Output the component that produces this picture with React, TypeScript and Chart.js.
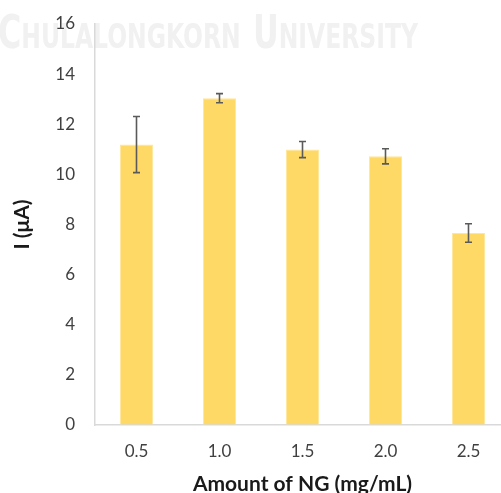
import React, { useEffect, useRef } from "react";
import { Chart, registerables } from "chart.js";

Chart.register(...registerables);

// Current response for each amount of NG
const categories = ["0.5", "1.0", "1.5", "2.0", "2.5"];
const currents = [11.19, 13.04, 10.99, 10.72, 7.66];
const errors = [1.12, 0.18, 0.32, 0.3, 0.37];
const yTicks = [0, 2, 4, 6, 8, 10, 12, 14, 16];

const FONT = "Lato, 'Open Sans', sans-serif";
const TEXT = "#404040";

// Faint institutional watermark across the top of the figure
const watermarkPlugin = {
  id: "watermark",
  beforeDraw(chart: any) {
    const ctx = chart.ctx as CanvasRenderingContext2D;
    const parts: [string, number, number][] = [
      ["C", 46, 0],
      ["HULALONGKORN", 34, 0],
      ["U", 46, 16],
      ["NIVERSITY", 34, 0],
    ];
    ctx.save();
    let total = 0;
    for (const [t, size, gap] of parts) {
      ctx.font = `bold ${size}px 'DejaVu Sans Condensed', 'Liberation Sans', sans-serif`;
      total += ctx.measureText(t).width + gap;
    }
    const targetW = 420;
    const sx = targetW / total;
    ctx.translate(-2, 48);
    ctx.scale(sx, 1);
    ctx.fillStyle = "#f1f1f1";
    ctx.textBaseline = "alphabetic";
    let x = 0;
    for (const [t, size, gap] of parts) {
      ctx.font = `bold ${size}px 'DejaVu Sans Condensed', 'Liberation Sans', sans-serif`;
      x += gap;
      ctx.fillText(t, x, 0);
      x += ctx.measureText(t).width;
    }
    ctx.restore();
  },
};

// Standard-deviation whiskers on top of each bar
const errorBarPlugin = {
  id: "errorBars",
  afterDatasetsDraw(chart: any) {
    const ctx = chart.ctx as CanvasRenderingContext2D;
    const meta = chart.getDatasetMeta(0);
    const yScale = chart.scales.y;
    ctx.save();
    ctx.strokeStyle = "#5a5a5a";
    ctx.lineWidth = 1.6;
    meta.data.forEach((bar: any, i: number) => {
      const x = bar.x;
      const top = yScale.getPixelForValue(currents[i] + errors[i]);
      const bot = yScale.getPixelForValue(currents[i] - errors[i]);
      const cap = 3.5;
      ctx.beginPath();
      ctx.moveTo(x, top);
      ctx.lineTo(x, bot);
      ctx.moveTo(x - cap, top);
      ctx.lineTo(x + cap, top);
      ctx.moveTo(x - cap, bot);
      ctx.lineTo(x + cap, bot);
      ctx.stroke();
    });
    ctx.restore();
  },
};

export default function App() {
  const ref = useRef<HTMLCanvasElement>(null);

  useEffect(() => {
    document.body.style.margin = "0";
    const chart = new Chart(ref.current!, {
      type: "bar",
      data: {
        labels: categories,
        datasets: [
          {
            data: currents,
            backgroundColor: "#FFD966",
            borderColor: "#FFE699",
            borderWidth: 1,
            categoryPercentage: 1,
            barPercentage: 0.4,
          },
        ],
      },
      options: {
        animation: false,
        responsive: false,
        devicePixelRatio: 1,
        layout: { padding: { top: 24, right: 5, left: 0, bottom: 0 } },
        plugins: {
          legend: { display: false },
          tooltip: { enabled: false },
        },
        scales: {
          x: {
            grid: { display: false, drawTicks: false },
            border: { display: true, color: "#d9d9d9", width: 1.5 },
            ticks: {
              color: TEXT,
              font: { family: FONT, size: 17 },
              padding: 16,
            },
            title: {
              display: true,
              text: "Amount of NG (mg/mL)",
              color: "#1a1a1a",
              font: { family: FONT, size: 21, weight: "bold" },
              padding: { top: 4, bottom: 0 },
            },
            afterFit(scale: any) {
              scale.height = 72;
            },
          },
          y: {
            min: 0,
            max: 16,
            afterBuildTicks(scale: any) {
              scale.ticks = yTicks.map((v) => ({ value: v }));
            },
            // invisible tick marks provide the gap between labels and the axis line
            grid: {
              display: true,
              drawOnChartArea: false,
              drawTicks: true,
              tickLength: 20,
              color: "rgba(0,0,0,0)",
            },
            border: { display: true, color: "#d9d9d9", width: 1.5 },
            ticks: {
              color: TEXT,
              font: { family: FONT, size: 17 },
              padding: 0,
            },
            title: {
              display: true,
              text: "I (μA)",
              color: "#1a1a1a",
              font: { family: FONT, size: 21, weight: "bold" },
              padding: { top: 10, bottom: 0 },
            },
            afterFit(scale: any) {
              scale.width = 95;
            },
          },
        },
      },
      plugins: [watermarkPlugin, errorBarPlugin],
    });
    return () => chart.destroy();
  }, []);

  return (
    <div style={{ position: "relative", width: 501, height: 493, overflow: "hidden", background: "#fff" }}>
      <canvas ref={ref} width={515} height={497} style={{ display: "block" }} />
    </div>
  );
}
